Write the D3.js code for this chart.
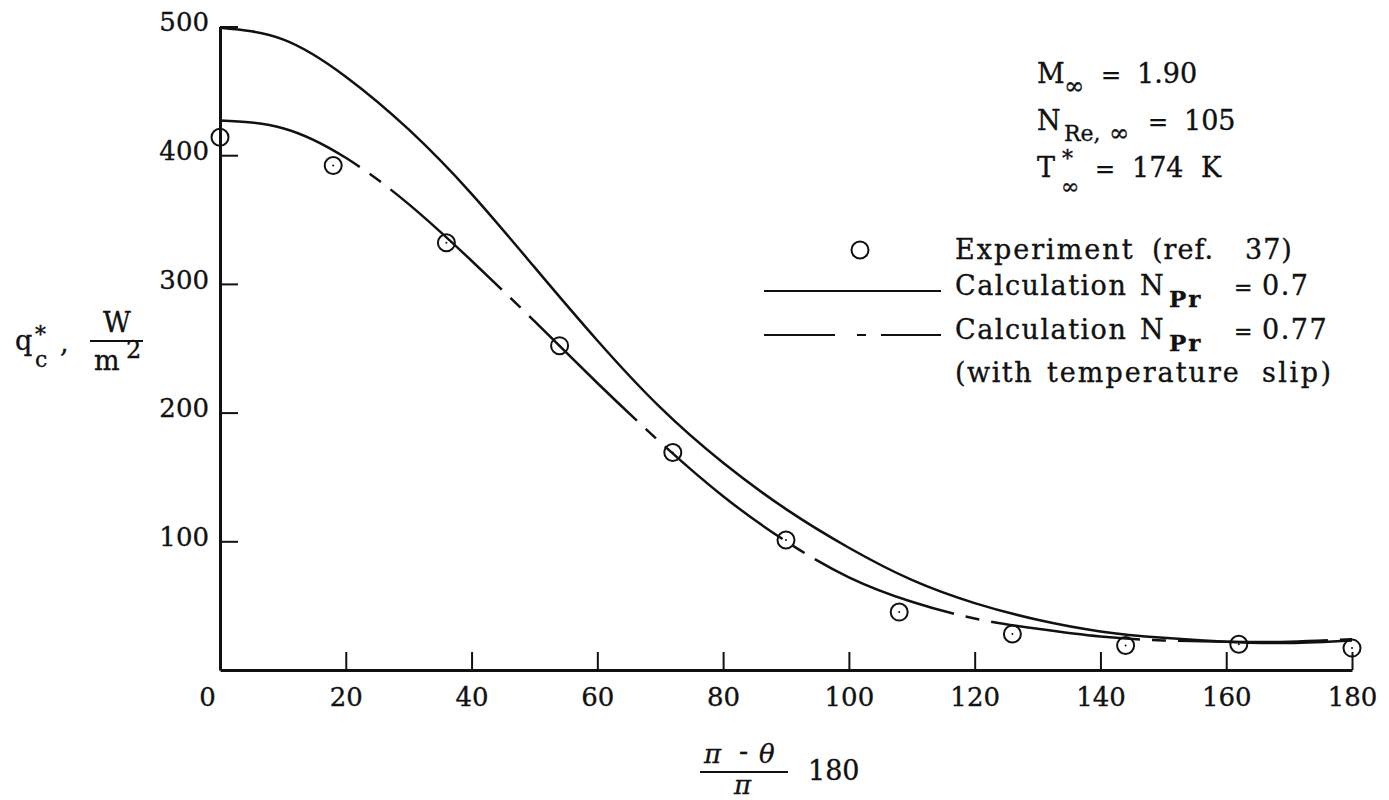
<!DOCTYPE html>
<html>
<head>
<meta charset="utf-8">
<script src="https://cdn.jsdelivr.net/npm/d3@7"></script>
<style>
    body { margin: 0; background: #fff; }
    svg text { font-family: "DejaVu Serif", "Liberation Serif", serif; fill: #111; stroke: #111; stroke-width: 0.35px; }
    .axis path, .axis line { stroke: #111; }
</style>
</head>
<body>
<div id="mainChart"></div>
<script>
// experiment (ref. 37), every 18 degrees
var expAngles = [0, 18, 36, 54, 72, 90, 108, 126, 144, 162, 180];
var expHeat = [414, 392, 332, 252, 169, 101, 45, 28, 19, 20, 17];

// calculated curves, read every 10 degrees
var calcAngles = [0, 10, 20, 30, 40, 50, 60, 70, 80, 90, 100, 110, 120, 130, 140, 150, 160, 170, 180];
var calcPr070 = [499, 490, 461, 420, 370, 313, 256, 204, 161, 125, 95, 70, 52, 39, 30, 25, 22, 21, 23];
var calcPr077 = [427, 421, 398, 362, 318, 271, 223, 177, 135, 100, 72, 53, 40, 32, 26, 23, 22, 22, 24];

var xTicks = [0, 20, 40, 60, 80, 100, 120, 140, 160, 180];
var yTicks = [100, 200, 300, 400, 500];

var chartConfig = {w: 1389, h: 800, left: 220, right: 1352, top: 26.5, bottom: 670};
var svg, xScale, yScale;

document.addEventListener('DOMContentLoaded', function () {
    svg = d3.select('#mainChart').append('svg')
        .attr('width', chartConfig.w)
        .attr('height', chartConfig.h);

    xScale = d3.scaleLinear().domain([0, 180]).range([chartConfig.left, chartConfig.right]);
    yScale = d3.scaleLinear().domain([0, 500]).range([chartConfig.bottom, chartConfig.top]);

    drawAxes();
    drawCurves();
    drawPoints();
    drawAxisLabels();
    drawLegend();
});

function drawAxes() {
    let xAxis = d3.axisBottom(xScale).tickValues(xTicks).tickSize(-18).tickSizeOuter(0).tickPadding(18);
    let yAxis = d3.axisLeft(yScale).tickValues(yTicks).tickSize(-18).tickSizeOuter(0).tickPadding(11);

    let gx = svg.append('g').attr('class', 'axis')
        .attr('transform', 'translate(0,' + chartConfig.bottom + ')')
        .call(xAxis);
    gx.select('.domain').attr('stroke-width', 3);
    gx.selectAll('.tick line').attr('stroke-width', 2);
    gx.selectAll('.tick text').attr('font-size', 26).attr('fill', '#111');
    // no tick at the origin, and its label sits left of the axis
    gx.selectAll('.tick').filter(d => d === 0).select('line').remove();
    gx.selectAll('.tick').filter(d => d === 0).select('text').attr('dx', -13);

    let gy = svg.append('g').attr('class', 'axis')
        .attr('transform', 'translate(' + chartConfig.left + ',0)')
        .call(yAxis);
    gy.select('.domain').attr('stroke-width', 3);
    gy.selectAll('.tick line').attr('stroke-width', 2);
    gy.selectAll('.tick text').attr('font-size', 26).attr('fill', '#111').attr('y', -4);
}

function drawCurves() {
    let line = d3.line()
        .x(d => xScale(d[0]))
        .y(d => yScale(d[1]))
        .curve(d3.curveNatural);

    svg.append('path')
        .datum(calcAngles.map((a, i) => [a, calcPr070[i]]))
        .attr('d', line)
        .attr('fill', 'none')
        .attr('stroke', '#111')
        .attr('stroke-width', 2.5);

    svg.append('path')
        .datum(calcAngles.map((a, i) => [a, calcPr077[i]]))
        .attr('d', line)
        .attr('fill', 'none')
        .attr('stroke', '#111')
        .attr('stroke-width', 2.5)
        .style('stroke-dasharray', '150,12,14,12');
}

function drawPoints() {
    let pts = svg.append('g');
    expAngles.forEach((a, i) => {
        pts.append('circle')
            .attr('cx', xScale(a)).attr('cy', yScale(expHeat[i]))
            .attr('r', 8.5)
            .attr('fill', 'none').attr('stroke', '#111').attr('stroke-width', 2);
        pts.append('circle')
            .attr('cx', xScale(a)).attr('cy', yScale(expHeat[i]))
            .attr('r', 1).attr('fill', '#111');
    });
}

function txt(s, x, y, size, opts) {
    let t = svg.append('text').text(s)
        .attr('x', x).attr('y', y)
        .attr('font-size', size);
    if (opts && opts.italic) t.attr('font-style', 'italic');
    if (opts && opts.anchor) t.attr('text-anchor', opts.anchor);
    if (opts && opts.spacing) t.attr('letter-spacing', opts.spacing);
    return t;
}

function drawAxisLabels() {
    // y label: q*_c , W / m^2
    txt('q', 15, 350, 27);
    txt('*', 35, 342, 22);
    txt('c', 35, 367, 22);
    txt(',', 60, 352, 27);
    txt('W', 117, 332, 27, {anchor: 'middle'});
    svg.append('line').attr('x1', 90).attr('x2', 143).attr('y1', 341).attr('y2', 341)
        .attr('stroke', '#111').attr('stroke-width', 2);
    txt('m', 94, 370, 27);
    txt('2', 126, 358, 24);

    // x label: (pi - theta)/pi 180
    txt('\u03c0', 704, 763, 26, {italic: true});
    txt('-', 739, 760, 27);
    txt('\u03b8', 759, 763, 26, {italic: true});
    svg.append('line').attr('x1', 700).attr('x2', 788).attr('y1', 772).attr('y2', 772)
        .attr('stroke', '#111').attr('stroke-width', 2);
    txt('\u03c0', 734, 794, 26, {italic: true});
    txt('180', 808, 780, 27);
}

function drawLegend() {
    // flow conditions
    txt('M', 1037, 83, 27);
    txt('\u221e', 1064, 94, 24);
    txt('=', 1101, 83, 24);
    txt('1.90', 1137, 83, 27);

    txt('N', 1037, 130, 27);
    txt('Re,', 1064, 141, 22);
    txt('\u221e', 1109, 141, 24);
    txt('=', 1148, 130, 24);
    txt('105', 1184, 130, 27);

    txt('T', 1037, 177, 27);
    txt('*', 1062, 166, 22);
    txt('\u221e', 1061, 194, 22);
    txt('=', 1095, 177, 24);
    txt('174', 1132, 177, 27);
    txt('K', 1201, 177, 27);

    // symbols
    svg.append('circle').attr('cx', 860).attr('cy', 250).attr('r', 8.5)
        .attr('fill', 'none').attr('stroke', '#111').attr('stroke-width', 2);
    txt('Experiment', 955, 259, 27, {spacing: 2});
    txt('(ref.', 1152, 259, 27, {spacing: 1});
    txt('37)', 1245, 259, 27, {spacing: 1});

    svg.append('line').attr('x1', 764).attr('x2', 941).attr('y1', 291).attr('y2', 291)
        .attr('stroke', '#111').attr('stroke-width', 2);
    txt('Calculation', 955, 295, 27, {spacing: 1.5});
    txt('N', 1140, 295, 27);
    txt('Pr', 1169, 307, 23, {spacing: 2}).attr('font-weight', 'bold');
    txt('=', 1234, 295, 22);
    txt('0.7', 1262, 295, 27, {spacing: 1.5});

    svg.append('line').attr('x1', 764).attr('x2', 941).attr('y1', 335).attr('y2', 335)
        .attr('stroke', '#111').attr('stroke-width', 2)
        .style('stroke-dasharray', '71,22,9,15,60');
    txt('Calculation', 955, 339, 27, {spacing: 1.5});
    txt('N', 1140, 339, 27);
    txt('Pr', 1169, 351, 23, {spacing: 2}).attr('font-weight', 'bold');
    txt('=', 1234, 339, 22);
    txt('0.77', 1262, 339, 27, {spacing: 1.5});

    txt('(with', 955, 382, 27, {spacing: 1.5});
    txt('temperature', 1047, 382, 27, {spacing: 2});
    txt('slip)', 1262, 382, 27, {spacing: 2.5});
}
</script>
</body>
</html>
